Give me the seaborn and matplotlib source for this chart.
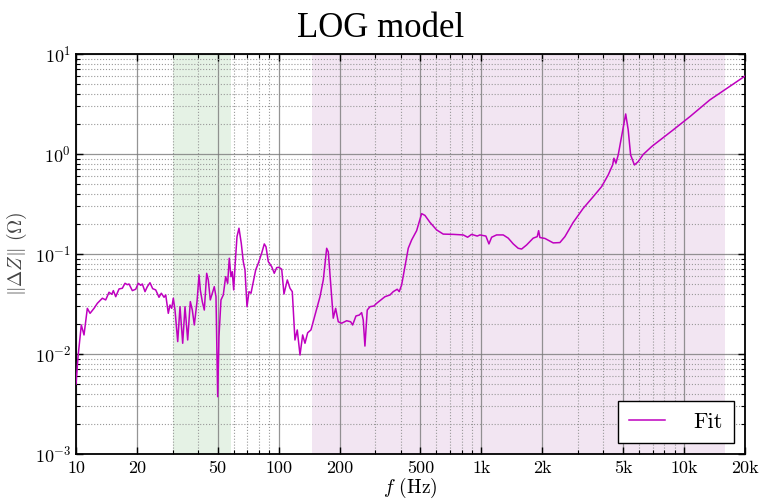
import numpy as np
import pandas as pd
import matplotlib
matplotlib.use("Agg")
import matplotlib.pyplot as plt
from matplotlib.ticker import LogLocator, FixedLocator, FixedFormatter, NullFormatter
import seaborn as sns

# ---- data ----
freq_hz = [10, 10.23, 10.62, 10.95, 11.37, 11.73, 12.27, 12.74, 13.49, 14.01, 14.55, 15.01, 15.28, 15.70,
           16.30, 16.92, 17.45, 17.91, 18.26, 18.96, 19.70, 20.29, 20.86, 21.24, 21.90, 22.48, 23.17,
           23.89, 24.73, 25.67, 26.35, 27.18, 27.71, 28.53, 29.09, 29.66, 30.20, 30.79, 31.75, 32.59,
           33.60, 34.49, 35.56, 36.64, 37.48, 38.34, 39.54, 40.45, 41.05, 41.98, 42.95, 44.13, 44.94,
           45.97, 47.03, 48.11, 49.05, 50.00, 50.74, 51.91, 53.28, 54.75, 56.01, 57.04, 58.15, 59.02,
           59.97, 60.86, 62.26, 63.69, 65.37, 66.88, 68.19, 69.76, 71.36, 73.01, 74.93, 77.01, 79.32,
           82.45, 84.91, 86.57, 88.87, 92.36, 95.11, 97.74, 100.3, 103.5, 106.2, 110.3, 113.7, 116.7,
           120.3, 123.5, 127.4, 131.3, 134.8, 139.0, 144.3, 151.0, 159.9, 166.0, 172.5, 175.7, 180.5,
           185.9, 191.0, 196.8, 204.5, 216.5, 226.5, 231.7, 240.6, 249.8, 256.6, 261.3, 266.4, 273.5,
           282.0, 295.1, 304.3, 316.0, 334.5, 354.0, 367.5, 384.6, 393.4, 404.3, 419.7, 435.8, 452.9,
           479.4, 507.4, 526.8, 557.7, 601.6, 648.5, 726.5, 814.0, 855.6, 895.4, 954.2, 984.0, 1053,
           1090, 1124, 1189, 1282, 1357, 1437, 1520, 1580, 1672, 1803, 1887, 1917, 1945, 2059, 2263,
           2441, 2584, 2840, 3182, 3565, 3920, 4226, 4443, 4509, 4613, 4735, 4921, 5155, 5304, 5452,
           5692, 5943, 6289, 6942, 8843, 10690, 13410, 19980]
fit_ohm = [0.0050, 0.0094, 0.0195, 0.0155, 0.0286, 0.0255, 0.0286, 0.0321, 0.0361, 0.0347, 0.0414, 0.0395,
           0.0430, 0.0374, 0.0447, 0.0454, 0.0509, 0.0493, 0.0501, 0.0430, 0.0444, 0.0509, 0.0486,
           0.0501, 0.0420, 0.0471, 0.0516, 0.0450, 0.0437, 0.0369, 0.0405, 0.0369, 0.0389, 0.0255,
           0.0309, 0.0286, 0.0361, 0.0275, 0.0133, 0.0297, 0.0128, 0.0297, 0.0138, 0.0334, 0.0275,
           0.0195, 0.0334, 0.0617, 0.0437, 0.0334, 0.0275, 0.0641, 0.0550, 0.0347, 0.0405, 0.0471,
           0.0374, 0.00374, 0.0149, 0.0347, 0.0389, 0.0593, 0.0509, 0.0906, 0.0593, 0.0665, 0.0437,
           0.0746, 0.149, 0.181, 0.128, 0.0838, 0.0692, 0.0297, 0.0420, 0.0405, 0.0528, 0.0692, 0.0807,
           0.102, 0.126, 0.118, 0.0838, 0.0746, 0.0641, 0.0730, 0.0736, 0.0703, 0.0398, 0.0550, 0.0454,
           0.0420, 0.0138, 0.0174, 0.00977, 0.0155, 0.0128, 0.0163, 0.0174, 0.0245, 0.0374, 0.0550,
           0.114, 0.105, 0.0509, 0.0228, 0.0286, 0.0210, 0.0203, 0.0215, 0.0210, 0.0195, 0.0240,
           0.0245, 0.0259, 0.0219, 0.0120, 0.0275, 0.0297, 0.0302, 0.0321, 0.0341, 0.0374, 0.0389,
           0.0420, 0.0444, 0.0420, 0.0490, 0.0746, 0.114, 0.138, 0.171, 0.253, 0.243, 0.207, 0.174,
           0.158, 0.157, 0.155, 0.147, 0.157, 0.151, 0.155, 0.151, 0.126, 0.147, 0.155, 0.155, 0.144,
           0.126, 0.114, 0.112, 0.123, 0.144, 0.149, 0.171, 0.146, 0.143, 0.129, 0.130, 0.149, 0.207,
           0.286, 0.374, 0.471, 0.617, 0.776, 0.906, 0.807, 0.977, 1.49, 2.51, 1.74, 0.977, 0.776,
           0.838, 0.989, 1.19, 1.74, 2.36, 3.47, 6.0]
green_band = (30, 58)
purple_band = (146, 16000)
xtick_values = [10, 20, 50, 100, 200, 500, 1000, 2000, 5000, 10000, 20000]
xtick_labels = ["10", "20", "50", "100", "200", "500", "1k", "2k", "5k", "10k", "20k"]
title_text = "LOG model"
series_label = "Fit"

df = pd.DataFrame({"f": freq_hz, "dz": fit_ohm})

plt.rcParams["font.family"] = ["cmr10", "DejaVu Serif"]
plt.rcParams["mathtext.fontset"] = "cm"
plt.rcParams["axes.formatter.use_mathtext"] = True
plt.rcParams["axes.unicode_minus"] = False

fig = plt.figure(figsize=(7.61, 5.04), dpi=100)
ax = fig.add_axes([0.0999, 0.0992, 0.8791, 0.7938])
ax.set_xscale("log")
ax.set_yscale("log")

ax.axvspan(*green_band, color="g", alpha=0.1, lw=0, zorder=0)
ax.axvspan(*purple_band, color="purple", alpha=0.1, lw=0, zorder=0)

sns.lineplot(data=df, x="f", y="dz", ax=ax, color="#bf00bf", lw=1.1,
             estimator=None, sort=False, label=series_label, zorder=3)

ax.set_xlim(10, 20000)
ax.set_ylim(1e-3, 10)

ax.xaxis.set_major_locator(FixedLocator(xtick_values))
ax.xaxis.set_major_formatter(FixedFormatter(xtick_labels))
ax.xaxis.set_minor_locator(LogLocator(base=10, subs=[3, 4, 6, 7, 8, 9], numticks=20))
ax.xaxis.set_minor_formatter(NullFormatter())
ax.yaxis.set_major_locator(LogLocator(base=10, numticks=10))
ax.yaxis.set_minor_locator(LogLocator(base=10, subs=np.arange(2, 10), numticks=20))
ax.yaxis.set_minor_formatter(NullFormatter())

ax.grid(True, which="major", color="#7a7a7a", lw=0.9, ls="-", alpha=0.8, zorder=1)
ax.grid(True, which="minor", color="#999999", lw=0.8, ls=":", zorder=1)
ax.set_axisbelow(True)

ax.tick_params(which="both", direction="in", top=True, right=True, labelsize=13, colors="black")
ax.tick_params(which="major", length=5, width=1)
ax.tick_params(which="minor", length=3, width=0.8)
ax.tick_params(axis="x", pad=5)
for s in ax.spines.values():
    s.set_color("black")
    s.set_linewidth(1.3)

ax.set_xlabel(r"$f$ (Hz)", fontsize=14, labelpad=0)
ax.set_ylabel(r"$\|\Delta Z\|$ $(\Omega)$", fontsize=14, color="#444444", labelpad=4)
ax.set_title(title_text, fontsize=25, family="Liberation Serif", pad=12, x=0.455)

leg = ax.legend(loc="lower right", fontsize=16, frameon=True, fancybox=False,
                edgecolor="black", framealpha=1, handlelength=1.6, borderpad=0.5,
                handletextpad=1.3, borderaxespad=0.5)
leg.get_frame().set_linewidth(1.0)

fig.savefig("out.png", dpi=100)
